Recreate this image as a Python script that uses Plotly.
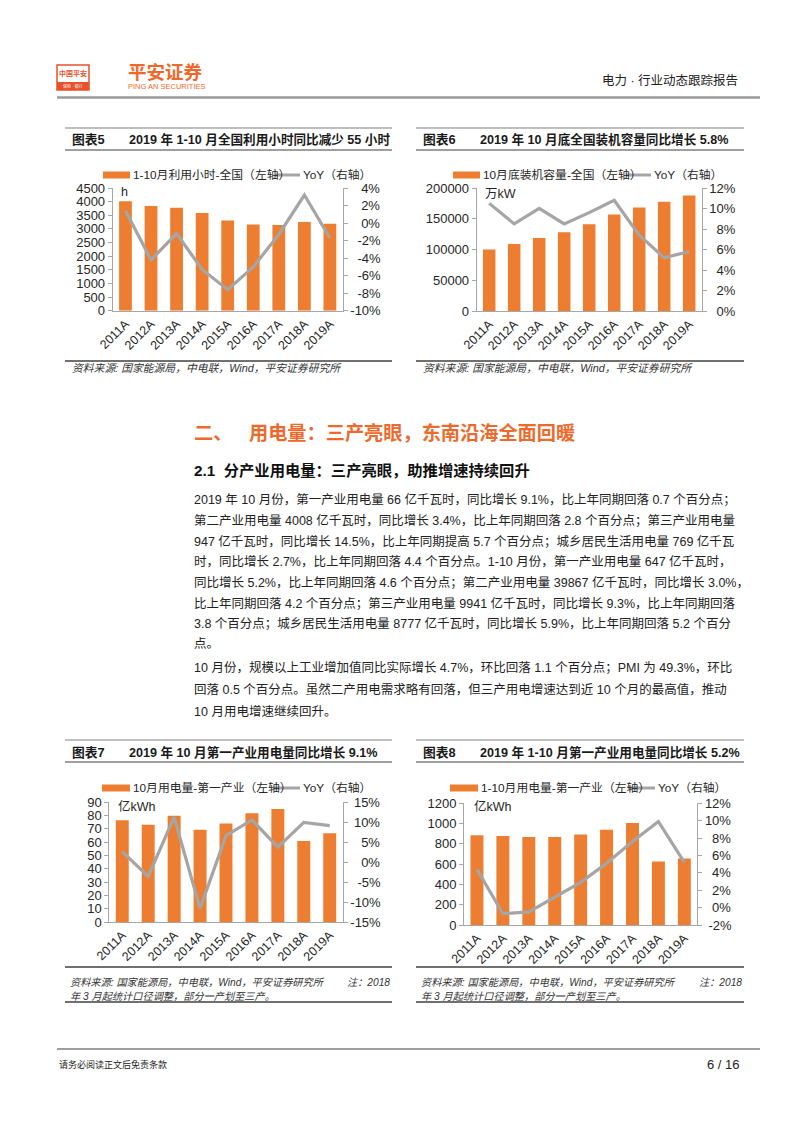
import plotly.graph_objects as go

W, H = 802, 1133
OFF = 8  # page body margin of the html page

# ---------------- data ----------------
years = ["2011A", "2012A", "2013A", "2014A", "2015A", "2016A", "2017A", "2018A", "2019A"]

hours_ytd = [4010, 3840, 3780, 3580, 3310, 3165, 3140, 3250, 3185]
hours_ytd_yoy = [1.4, -4.2, -1.2, -5.3, -7.6, -5.0, -1.3, 3.2, -1.7]

capacity_oct = [100000, 109000, 118800, 128000, 141100, 157000, 168400, 177700, 188000]
capacity_oct_yoy = [10.5, 8.5, 10.0, 8.5, 9.6, 10.8, 7.4, 5.2, 5.8]

primary_oct = [76.4, 72.9, 79.7, 69.2, 73.9, 81.5, 84.7, 60.7, 66.5]
primary_oct_yoy = [2.6, -3.6, 11.2, -11.6, 6.6, 10.5, 3.7, 9.9, 9.1]

primary_ytd = [885, 878, 868, 868, 892, 940, 1005, 625, 655]
primary_ytd_yoy = [4.4, -0.7, -0.5, 1.2, 2.9, 5.1, 7.6, 9.9, 5.2]

left_ticks_5 = [0, 500, 1000, 1500, 2000, 2500, 3000, 3500, 4000, 4500]
right_ticks_5 = [-10, -8, -6, -4, -2, 0, 2, 4]
left_ticks_6 = [0, 50000, 100000, 150000, 200000]
right_ticks_6 = [0, 2, 4, 6, 8, 10, 12]
left_ticks_7 = [0, 10, 20, 30, 40, 50, 60, 70, 80, 90]
right_ticks_7 = [-15, -10, -5, 0, 5, 10, 15]
left_ticks_8 = [0, 200, 400, 600, 800, 1000, 1200]
right_ticks_8 = [-2, 0, 2, 4, 6, 8, 10, 12]

ORANGE = "#ED7D31"
GRAY = "#A5A5A5"
AX = "#A6A6A6"
TXT = "#262626"
HEAD = "#EC6A2C"
FONT = "Liberation Sans, Arial, Noto Sans CJK SC, sans-serif"


def px(x):
    return (x - OFF) / W


def py(y):
    return 1 - (y - OFF) / H


CW = {"-": 0.333, "%": 0.889}


def _w(s):
    return sum(CW.get(ch, 0.556) for ch in s)


def pct_labels(vals):
    labs = [("-" if v < 0 else "") + f"{abs(v)}%" for v in vals]
    mw = max(_w(s) for s in labs)
    out = []
    for s in labs:
        pad = mw - _w(s)
        nf = int(pad // 0.556 + 1e-9)
        rem = pad - nf * 0.556
        npun = int(round(rem / 0.278))
        out.append("\u2007" * nf + "\u2008" * npun + s)
    return out


charts = [
    dict(bars=hours_ytd, yoy=hours_ytd_yoy, x0=112.7, x1=342.7, y0=188, y1=310.7,
         lt=left_ticks_5, rt=right_ticks_5, unit="h", ux=119, uy=192,
         box=(65, 392), top=128, title_y=140, uline=150, leg_y=175, src_line=361,
         fig_no="图表5", title="2019 年 1-10 月全国利用小时同比减少 55 小时",
         leg_bar="1-10月利用小时-全国（左轴）", sw=(103, 130), lw=(275, 300)),
    dict(bars=capacity_oct, yoy=capacity_oct_yoy, x0=476.7, x1=701.7, y0=188, y1=311,
         lt=left_ticks_6, rt=right_ticks_6, unit="万kW", ux=483, uy=194,
         box=(416, 744), top=128, title_y=140, uline=150, leg_y=175, src_line=361,
         fig_no="图表6", title="2019 年 10 月底全国装机容量同比增长 5.8%",
         leg_bar="10月底装机容量-全国（左轴）", sw=(453, 480), lw=(626, 651)),
    dict(bars=primary_oct, yoy=primary_oct_yoy, x0=109.3, x1=342.7, y0=802, y1=922,
         lt=left_ticks_7, rt=right_ticks_7, unit="亿kWh", ux=116, uy=807,
         box=(65, 392), top=740, title_y=752, uline=762, leg_y=788, src_line=967,
         fig_no="图表7", title="2019 年 10 月第一产业用电量同比增长 9.1%",
         leg_bar="10月用电量-第一产业（左轴）", sw=(102, 130), lw=(273, 300)),
    dict(bars=primary_ytd, yoy=primary_ytd_yoy, x0=464, x1=697.3, y0=803.3, y1=925,
         lt=left_ticks_8, rt=right_ticks_8, unit="亿kWh", ux=472, uy=807,
         box=(416, 744), top=740, title_y=752, uline=762, leg_y=788, src_line=967,
         fig_no="图表8", title="2019 年 1-10 月第一产业用电量同比增长 5.2%",
         leg_bar="1-10月用电量-第一产业（左轴）", sw=(450, 478), lw=(628, 655)),
]

fig = go.Figure()
layout = {}
shapes = []
ann = []


def text(x, y, s, size=12, color=TXT, anchor="left", family=FONT, yanchor="middle"):
    ann.append(dict(x=px(x), y=py(y), xref="paper", yref="paper", text=s, showarrow=False,
                    xanchor=anchor, yanchor=yanchor, font=dict(size=size, color=color, family=family)))


def hline(x0, x1, y, color, width):
    shapes.append(dict(type="line", xref="paper", yref="paper", x0=px(x0), x1=px(x1),
                       y0=py(y), y1=py(y), line=dict(color=color, width=width)))


for i, c in enumerate(charts):
    xn = "x" if i == 0 else f"x{i + 1}"
    xkey = "xaxis" if i == 0 else f"xaxis{i + 1}"
    yl, yr = 2 * i + 1, 2 * i + 2
    yln = "y" if yl == 1 else f"y{yl}"
    ylkey = "yaxis" if yl == 1 else f"yaxis{yl}"
    yrn, yrkey = f"y{yr}", f"yaxis{yr}"

    fig.add_trace(go.Bar(x=years, y=c["bars"], xaxis=xn, yaxis=yln, marker_color=ORANGE,
                         marker_line_width=0, width=0.5, showlegend=False, name=c["leg_bar"]))
    fig.add_trace(go.Scatter(x=years, y=c["yoy"], xaxis=xn, yaxis=yrn, mode="lines",
                             line=dict(color=GRAY, width=3.2), showlegend=False, name="YoY"))

    tf = dict(size=13, color=TXT, family=FONT)
    layout[xkey] = dict(domain=[px(c["x0"]), px(c["x1"])], anchor=yln, type="category",
                        showline=True, linecolor=AX, linewidth=1, ticks="", tickangle=-45,
                        tickfont=dict(size=12.5, color=TXT, family=FONT),
                        showgrid=False, zeroline=False, fixedrange=True, automargin=False)
    layout[ylkey] = dict(domain=[py(c["y1"]), py(c["y0"])], anchor=xn,
                         range=[c["lt"][0], c["lt"][-1]], tickvals=c["lt"],
                         ticktext=[str(v) for v in c["lt"]],
                         showline=True, linecolor=AX, linewidth=1, ticks="outside", ticklen=4,
                         tickcolor=AX, tickfont=tf, showgrid=False, zeroline=False, fixedrange=True,
                         automargin=False)
    layout[yrkey] = dict(overlaying=yln, side="right", anchor=xn,
                         range=[c["rt"][0], c["rt"][-1]], tickvals=c["rt"], ticktext=pct_labels(c["rt"]),
                         showline=True, linecolor=AX, linewidth=1, ticks="outside", ticklen=4,
                         tickcolor=AX, tickfont=tf, showgrid=False, zeroline=False, fixedrange=True,
                         automargin=False)

    # unit label
    text(c["ux"], c["uy"], c["unit"], size=12.5)

    # frame lines
    bx0, bx1 = c["box"]
    hline(bx0, bx1, c["top"], "#BFBFBF", 2)
    hline(bx0, bx1, c["uline"], "#404040", 1.2)
    hline(bx0, bx1, c["src_line"], "#404040", 1.5)

    # title
    text(bx0 + 5, c["title_y"], "<b>" + c["fig_no"] + "</b>", size=12.8, color="#1a1a1a")
    text(bx0 + 62, c["title_y"], "<b>" + c["title"] + "</b>", size=12.6, color="#1a1a1a")

    # legend
    sx0, sx1 = c["sw"]
    shapes.append(dict(type="rect", xref="paper", yref="paper", x0=px(sx0), x1=px(sx1),
                       y0=py(c["leg_y"] + 3.5), y1=py(c["leg_y"] - 3.5),
                       fillcolor=ORANGE, line=dict(width=0)))
    text(sx1 + 1, c["leg_y"], c["leg_bar"], size=11.8)
    lx0, lx1 = c["lw"]
    hline(lx0, lx1, c["leg_y"], GRAY, 3)
    text(lx1 + 1, c["leg_y"], "YoY（右轴）", size=11.8)

# sources
SRC = "资料来源: 国家能源局，中电联，Wind，平安证券研究所"
text(70, 368, "<i>" + SRC + "</i>", size=10.8, color="#333333")
text(421, 368, "<i>" + SRC + "</i>", size=10.8, color="#333333")
for bx0, bx1 in [(65, 392), (416, 744)]:
    text(bx0 + 3, 982, "<i>" + SRC + "</i>", size=10.2, color="#333333")
    text(bx1, 982, "<i>注：2018</i>", size=10.2, color="#333333", anchor="right")
    text(bx0 + 3, 996, "<i>年 3 月起统计口径调整，部分一产划至三产。</i>", size=10.2, color="#333333")
    hline(bx0, bx1, 1002, "#404040", 1.5)

# ---------------- header ----------------
shapes.append(dict(type="rect", xref="paper", yref="paper", x0=px(57), x1=px(89), y0=py(90), y1=py(65),
                   fillcolor="white", line=dict(color="#E8512B", width=1.5)))
shapes.append(dict(type="rect", xref="paper", yref="paper", x0=px(57), x1=px(89), y0=py(90), y1=py(82),
                   fillcolor="#E8512B", line=dict(width=0)))
text(73, 74, "<b>中国平安</b>", size=7, color="#E8512B", anchor="center")
text(73, 86, "保险 · 银行", size=4, color="white", anchor="center")
text(126, 73, "<b>平安证券</b>", size=18.5, color="#F0692A")
text(126, 87, "PING AN SECURITIES", size=7.5, color="#F0692A")
text(740, 80, "电力 · 行业动态跟踪报告", size=12.5, color="#222222", anchor="right")
hline(57, 760, 97.5, "#9A9A9A", 2.5)

# ---------------- body text ----------------
text(192, 433, "<b>二、</b>", size=19.2, color=HEAD)
text(247, 433, "<b>用电量：三产亮眼，东南沿海全面回暖</b>", size=19.2, color=HEAD)
text(192, 470, "<b>2.1  分产业用电量：三产亮眼，助推增速持续回升</b>", size=15.3, color="#111111")

para1 = [
    "2019 年 10 月份，第一产业用电量 66 亿千瓦时，同比增长 9.1%，比上年同期回落 0.7 个百分点；",
    "第二产业用电量 4008 亿千瓦时，同比增长 3.4%，比上年同期回落 2.8 个百分点；第三产业用电量",
    "947 亿千瓦时，同比增长 14.5%，比上年同期提高 5.7 个百分点；城乡居民生活用电量 769 亿千瓦",
    "时，同比增长 2.7%，比上年同期回落 4.4 个百分点。1-10 月份，第一产业用电量 647 亿千瓦时，",
    "同比增长 5.2%，比上年同期回落 4.6 个百分点；第二产业用电量 39867 亿千瓦时，同比增长 3.0%，",
    "比上年同期回落 4.2 个百分点；第三产业用电量 9941 亿千瓦时，同比增长 9.3%，比上年同期回落",
    "3.8 个百分点；城乡居民生活用电量 8777 亿千瓦时，同比增长 5.9%，比上年同期回落 5.2 个百分",
    "点。",
]
para2 = [
    "10 月份，规模以上工业增加值同比实际增长 4.7%，环比回落 1.1 个百分点；PMI 为 49.3%，环比",
    "回落 0.5 个百分点。虽然二产用电需求略有回落，但三产用电增速达到近 10 个月的最高值，推动",
    "10 月用电增速继续回升。",
]
for k, s in enumerate(para1):
    text(192, 500 + k * 20.6, s, size=12.5, color="#222222")
for k, s in enumerate(para2):
    text(192, 667 + k * 22.2, s, size=12.5, color="#222222")

# ---------------- footer ----------------
hline(57, 760, 1049, "#7F7F7F", 1.5)
text(57, 1064, "请务必阅读正文后免责条款", size=9, color="#222222")
text(742, 1064, "6 / 16", size=13, color="#222222", anchor="right")

fig.update_layout(
    width=W, height=H, margin=dict(l=0, r=0, t=0, b=0, autoexpand=False),
    paper_bgcolor="white", plot_bgcolor="white",
    bargap=0.5, showlegend=False,
    font=dict(family=FONT, color=TXT),
    shapes=shapes, annotations=ann, **layout,
)

fig.write_html("out.html")
